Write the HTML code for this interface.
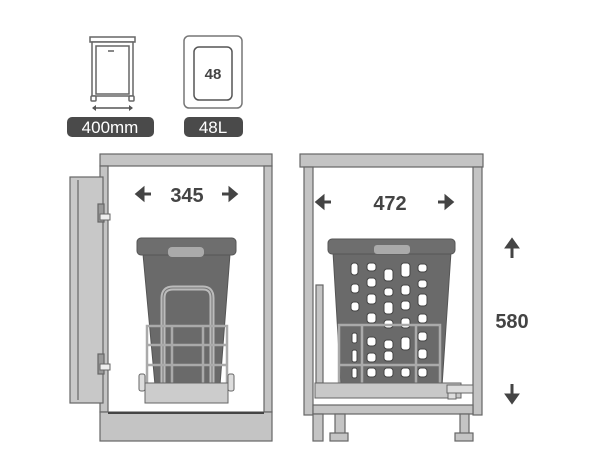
<!DOCTYPE html>
<html><head><meta charset="utf-8"><style>
html,body{margin:0;padding:0;background:#fff;width:600px;height:450px;overflow:hidden}
svg{display:block}
text{font-family:"Liberation Sans",sans-serif;font-weight:bold}
</style></head><body>
<svg width="600" height="450" viewBox="0 0 600 450" xmlns="http://www.w3.org/2000/svg">
<!-- icon 1 -->
<g stroke="#666" stroke-width="1.5" fill="#fff">
<rect x="90" y="37" width="45" height="5"/>
<rect x="92" y="42" width="41" height="54"/>
<rect x="96" y="46" width="33" height="48"/>
<rect x="91" y="96" width="5" height="5" rx="1"/>
<rect x="129" y="96" width="5" height="5" rx="1"/>
</g>
<rect x="108" y="50" width="6" height="2" fill="#888"/>
<line x1="93" y1="108" x2="132" y2="108" stroke="#555" stroke-width="1.5"/>
<path d="M92 108 l4 -3 v6z M133 108 l-4 -3 v6z" fill="#555"/>
<rect x="67" y="117" width="87" height="20" rx="5" fill="#4a4a4a"/>
<text x="110" y="133" font-size="17" font-weight="normal" fill="#fff" text-anchor="middle" style="font-weight:normal">400mm</text>
<!-- icon 2 -->
<rect x="184" y="36" width="58" height="72" rx="5" fill="#fff" stroke="#777" stroke-width="1.5"/>
<rect x="194" y="47" width="38" height="53" rx="5" fill="#fff" stroke="#555" stroke-width="1.5"/>
<text x="213" y="79" font-size="15" fill="#444" text-anchor="middle">48</text>
<rect x="184" y="117" width="59" height="20" rx="5" fill="#4a4a4a"/>
<text x="213" y="133" font-size="17" fill="#fff" text-anchor="middle" style="font-weight:normal">48L</text>

<!-- left cabinet -->
<g stroke="#666" stroke-width="1.2">
<rect x="100" y="154" width="172" height="12" fill="#c4c4c4"/>
<rect x="100" y="166" width="8" height="246" fill="#c4c4c4"/>
<rect x="264" y="166" width="8" height="246" fill="#c4c4c4"/>
<rect x="100" y="412" width="172" height="29" fill="#c4c4c4"/>
<rect x="70" y="177" width="33" height="226" fill="#c8c8c8"/>
<line x1="78" y1="180" x2="78" y2="400"/>
<rect x="98" y="204" width="6" height="18" fill="#999"/>
<rect x="98" y="354" width="6" height="20" fill="#999"/>
</g>
<line x1="108" y1="413" x2="264" y2="413" stroke="#444" stroke-width="2"/>
<rect x="100" y="214" width="10" height="6" fill="#eee" stroke="#666"/>
<rect x="100" y="364" width="10" height="6" fill="#eee" stroke="#666"/>
<text x="187" y="202" font-size="20" fill="#444" text-anchor="middle">345</text>
<path d="M137 194 h14 M137 194 l6 -5 v10z M236 194 h-14 M236 194 l-6 -5 v10z" stroke="#444" stroke-width="3" fill="#444"/>
<!-- bin -->
<path d="M143 254 L230 254 L220 385 L155 385Z" fill="#6a6a6a" stroke="#555"/>
<rect x="137" y="238" width="99" height="17" rx="4" fill="#6e6e6e" stroke="#555"/>
<rect x="168" y="247" width="36" height="10" rx="4" fill="#aaa"/>
<path d="M163 385 V298 Q163 288 173 288 H203 Q212 288 212 298 V385" fill="none" stroke="#bbb" stroke-width="5"/>
<path d="M163 385 V298 Q163 288 173 288 H203 Q212 288 212 298 V385" fill="none" stroke="#777" stroke-width="1"/>
<g stroke="#aaa" stroke-width="2.5" fill="none">
<rect x="147" y="326" width="80" height="60"/>
<line x1="147" y1="345" x2="227" y2="345"/>
<line x1="147" y1="365" x2="227" y2="365"/>
<line x1="172" y1="326" x2="172" y2="386"/>
<line x1="203" y1="326" x2="203" y2="386"/>
</g>
<rect x="145" y="383" width="83" height="20" fill="#ccc" stroke="#666"/>
<rect x="139" y="374" width="6" height="17" rx="2" fill="#ddd" stroke="#666"/>
<rect x="228" y="374" width="6" height="17" rx="2" fill="#ddd" stroke="#666"/>

<!-- right cabinet -->
<g stroke="#666" stroke-width="1.2" fill="#c4c4c4">
<rect x="300" y="154" width="183" height="13"/>
<rect x="304" y="167" width="9" height="248"/>
<rect x="473" y="167" width="9" height="248"/>
<rect x="313" y="405" width="160" height="9"/>
<rect x="313" y="414" width="10" height="27"/>
<rect x="335" y="414" width="10" height="20"/>
<rect x="330" y="433" width="18" height="8"/>
<rect x="460" y="414" width="9" height="20"/>
<rect x="455" y="433" width="18" height="8"/>
<rect x="316" y="285" width="7" height="98"/>
</g>
<text x="390" y="210" font-size="20" fill="#444" text-anchor="middle">472</text>
<path d="M317 202 h14 M317 202 l6 -5 v10z M452 202 h-14 M452 202 l-6 -5 v10z" stroke="#444" stroke-width="3" fill="#444"/>
<text x="512" y="328" font-size="20" fill="#444" text-anchor="middle">580</text>
<path d="M512 240 v18 M512 240 l-5 7 h10z M512 402 v-18 M512 402 l-5 -7 h10z" stroke="#444" stroke-width="3" fill="#444"/>
<!-- basket -->
<path d="M333 252 L451 252 L442 386 L341 386Z" fill="#6a6a6a" stroke="#555"/>
<rect x="328" y="239" width="127" height="15" rx="4" fill="#6e6e6e" stroke="#555"/>
<rect x="374" y="245" width="36" height="9" rx="3" fill="#aaa"/>
<g fill="#fff" stroke="#444" stroke-width="1">
<rect x="351" y="263" width="7" height="12" rx="3"/><rect x="367" y="263" width="9" height="8" rx="3"/><rect x="384" y="269" width="9" height="12" rx="3"/><rect x="401" y="263" width="9" height="14" rx="3"/><rect x="418" y="264" width="9" height="8" rx="3"/>
<rect x="351" y="284" width="8" height="9" rx="3"/><rect x="367" y="278" width="9" height="9" rx="3"/><rect x="384" y="288" width="9" height="8" rx="3"/><rect x="401" y="285" width="9" height="10" rx="3"/><rect x="418" y="280" width="9" height="8" rx="3"/>
<rect x="351" y="302" width="8" height="9" rx="3"/><rect x="367" y="294" width="9" height="10" rx="3"/><rect x="384" y="302" width="9" height="12" rx="3"/><rect x="401" y="301" width="9" height="9" rx="3"/><rect x="418" y="294" width="9" height="12" rx="3"/>
<rect x="367" y="313" width="9" height="10" rx="3"/><rect x="384" y="320" width="9" height="8" rx="3"/><rect x="401" y="318" width="9" height="10" rx="3"/><rect x="418" y="314" width="9" height="9" rx="3"/>
<rect x="352" y="333" width="5" height="10" rx="2"/><rect x="367" y="337" width="9" height="9" rx="3"/><rect x="384" y="340" width="9" height="9" rx="3"/><rect x="401" y="337" width="9" height="13" rx="3"/><rect x="418" y="332" width="9" height="9" rx="3"/>
<rect x="352" y="350" width="5" height="12" rx="2"/><rect x="367" y="353" width="9" height="9" rx="3"/><rect x="384" y="351" width="9" height="10" rx="3"/><rect x="418" y="349" width="9" height="10" rx="3"/>
<rect x="352" y="368" width="5" height="10" rx="2"/><rect x="367" y="368" width="9" height="9" rx="3"/><rect x="384" y="368" width="9" height="9" rx="3"/><rect x="401" y="368" width="9" height="9" rx="3"/><rect x="418" y="368" width="9" height="9" rx="3"/>
</g>
<g stroke="#aaa" stroke-width="2.5" fill="none">
<rect x="339" y="325" width="101" height="60"/>
<line x1="339" y1="365" x2="440" y2="365"/>
<line x1="362" y1="325" x2="362" y2="385"/>
<line x1="416" y1="325" x2="416" y2="385"/>
</g>
<rect x="315" y="383" width="146" height="15" fill="#c8c8c8" stroke="#666"/>
<rect x="447" y="385" width="26" height="8" fill="#ddd" stroke="#666"/>
<rect x="448" y="393" width="8" height="6" fill="#ddd" stroke="#666"/>
</svg>
</body></html>
